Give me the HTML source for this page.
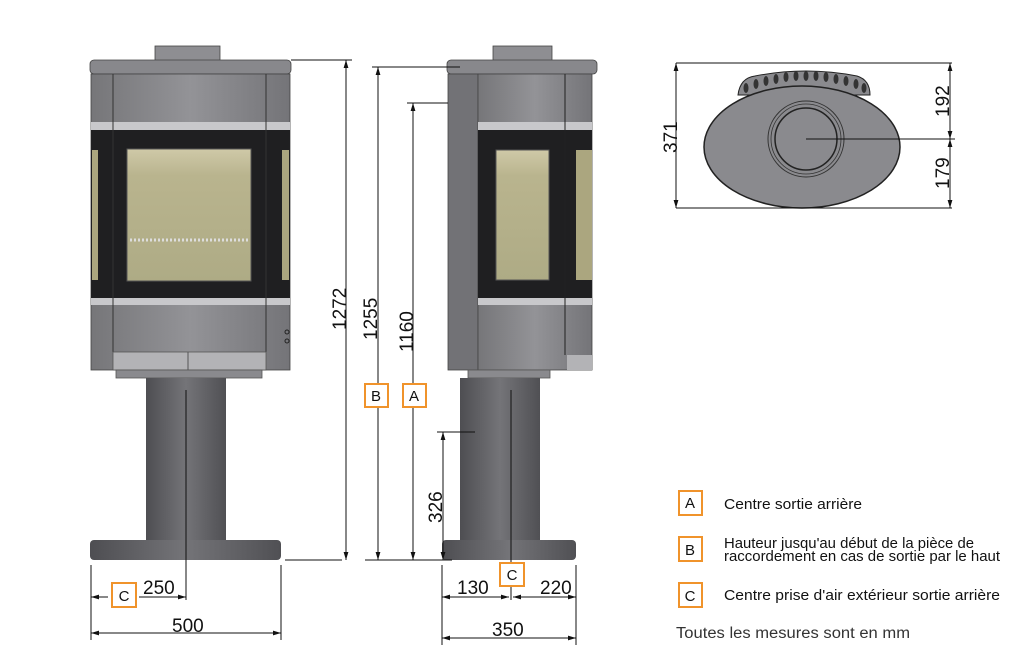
<!DOCTYPE html>
<html><head><meta charset="utf-8"><style>
html,body{margin:0;padding:0;background:#fff;width:1024px;height:672px;overflow:hidden}
svg{display:block}
text{font-family:"Liberation Sans",sans-serif;fill:#111}
</style></head><body>
<svg width="1024" height="672" viewBox="0 0 1024 672" xmlns="http://www.w3.org/2000/svg">
<defs>
<linearGradient id="g" x1="0" x2="1"><stop offset="0" stop-color="#767679"/><stop offset="0.5" stop-color="#939397"/><stop offset="1" stop-color="#747478"/></linearGradient>
<linearGradient id="gd" x1="0" x2="1"><stop offset="0" stop-color="#4e4e52"/><stop offset="0.5" stop-color="#747478"/><stop offset="1" stop-color="#505054"/></linearGradient>
<linearGradient id="gl" x1="0" x2="0" y1="0" y2="1"><stop offset="0" stop-color="#cfc9a8"/><stop offset="0.2" stop-color="#b9b48e"/><stop offset="1" stop-color="#aeab85"/></linearGradient>
<marker id="a" viewBox="0 0 10 10" refX="10" refY="5" markerWidth="8" markerHeight="8" orient="auto-start-reverse"><path d="M0,2L10,5L0,8z" fill="#111"/></marker>
</defs>

<!-- FRONT STOVE -->
<rect x="155" y="46" width="65" height="15" fill="#8e8e92" stroke="#444" stroke-width="0.8"/>
<rect x="90" y="60" width="201" height="14" rx="4" fill="#88888c" stroke="#444" stroke-width="0.8"/>
<rect x="91" y="74" width="199" height="296" fill="url(#g)" stroke="#444" stroke-width="0.8"/>
<rect x="91" y="122" width="199" height="8" fill="#c8c8cb"/>
<rect x="91" y="130" width="199" height="168" fill="#1f1f21"/>
<rect x="91" y="298" width="199" height="7" fill="#c8c8cb"/>
<line x1="113" y1="74" x2="113" y2="352" stroke="#333"/>
<line x1="266" y1="74" x2="266" y2="352" stroke="#333"/>
<rect x="127" y="149" width="124" height="132" fill="url(#gl)" stroke="#555"/>
<line x1="130" y1="240" x2="248" y2="240" stroke="#ddd" stroke-width="3" stroke-dasharray="2 2"/>
<rect x="92" y="150" width="6" height="130" fill="#aba67f"/>
<rect x="282" y="150" width="7" height="130" fill="#aba67f"/>
<rect x="113" y="352" width="153" height="18" fill="#b3b3b6" stroke="#555" stroke-width="0.8"/>
<line x1="188" y1="352" x2="188" y2="370" stroke="#555"/>
<circle cx="287" cy="332" r="2" fill="none" stroke="#222"/><circle cx="287" cy="341" r="2" fill="none" stroke="#222"/>
<rect x="116" y="370" width="146" height="8" fill="#8a8a8e" stroke="#555" stroke-width="0.8"/>
<rect x="146" y="378" width="80" height="162" fill="url(#gd)"/>
<rect x="90" y="540" width="191" height="20" rx="4" fill="url(#gd)"/>
<line x1="186" y1="390" x2="186" y2="600" stroke="#111"/>

<!-- SIDE STOVE -->
<rect x="493" y="46" width="59" height="15" fill="#8e8e92" stroke="#444" stroke-width="0.8"/>
<rect x="447" y="60" width="150" height="14" rx="4" fill="#88888c" stroke="#444" stroke-width="0.8"/>
<rect x="448" y="74" width="30" height="296" fill="#727276" stroke="#444" stroke-width="0.8"/>
<rect x="478" y="74" width="114" height="296" fill="url(#g)" stroke="#444" stroke-width="0.8"/>
<rect x="478" y="122" width="114" height="8" fill="#c8c8cb"/>
<rect x="478" y="130" width="114" height="168" fill="#1f1f21"/>
<rect x="478" y="298" width="114" height="7" fill="#c8c8cb"/>
<line x1="565" y1="74" x2="565" y2="355" stroke="#222"/>
<rect x="496" y="150" width="53" height="130" fill="url(#gl)" stroke="#555"/>
<rect x="576" y="150" width="16" height="130" fill="#aba67f"/>
<rect x="567" y="355" width="25" height="15" fill="#b3b3b6"/>
<rect x="468" y="370" width="82" height="8" fill="#8a8a8e" stroke="#555" stroke-width="0.8"/>
<rect x="460" y="378" width="80" height="162" fill="url(#gd)"/>
<rect x="442" y="540" width="134" height="20" rx="4" fill="url(#gd)"/>
<line x1="511" y1="390" x2="511" y2="600" stroke="#111"/>

<!-- vertical dims -->
<g stroke="#111" stroke-width="1" fill="none">
<line x1="291" y1="60" x2="352" y2="60"/>
<line x1="346" y1="60" x2="346" y2="560" marker-start="url(#a)" marker-end="url(#a)"/>
<line x1="372" y1="67" x2="460" y2="67"/>
<line x1="378" y1="67" x2="378" y2="560" marker-start="url(#a)" marker-end="url(#a)"/>
<line x1="407" y1="103" x2="448" y2="103"/>
<line x1="413" y1="103" x2="413" y2="560" marker-start="url(#a)" marker-end="url(#a)"/>
<line x1="437" y1="432" x2="475" y2="432"/>
<line x1="443" y1="432" x2="443" y2="560" marker-start="url(#a)" marker-end="url(#a)"/>
<line x1="285" y1="560" x2="342" y2="560"/>
<line x1="365" y1="560" x2="452" y2="560"/>
<!-- bottom dims -->
<line x1="91" y1="565" x2="91" y2="640"/><line x1="281" y1="565" x2="281" y2="640"/>
<line x1="91" y1="597" x2="108" y2="597" marker-start="url(#a)"/>
<line x1="139" y1="597" x2="186" y2="597" marker-end="url(#a)"/>
<line x1="91" y1="633" x2="281" y2="633" marker-start="url(#a)" marker-end="url(#a)"/>
<line x1="442" y1="565" x2="442" y2="645"/><line x1="576" y1="565" x2="576" y2="645"/>
<line x1="442" y1="597" x2="509" y2="597" marker-start="url(#a)" marker-end="url(#a)"/>
<line x1="513" y1="597" x2="576" y2="597" marker-start="url(#a)" marker-end="url(#a)"/>
<line x1="442" y1="638" x2="576" y2="638" marker-start="url(#a)" marker-end="url(#a)"/>
</g>
<g font-size="19">
<text transform="translate(346,330) rotate(-90)">1272</text>
<text transform="translate(377,340) rotate(-90)">1255</text>
<text transform="translate(413,352) rotate(-90)">1160</text>
<text transform="translate(442,523) rotate(-90)">326</text>
<text x="143" y="594">250</text>
<text x="172" y="632">500</text>
<text x="457" y="594">130</text>
<text x="540" y="594">220</text>
<text x="492" y="636">350</text>
</g>
<g fill="#fff" stroke="#f0932b" stroke-width="2">
<rect x="365" y="384" width="23" height="23"/><rect x="403" y="384" width="23" height="23"/>
<rect x="112" y="583" width="24" height="24"/><rect x="500" y="563" width="24" height="23"/>
<rect x="679" y="491" width="23" height="24"/><rect x="679" y="537" width="23" height="24"/><rect x="679" y="583" width="23" height="24"/>
</g>
<g font-size="15" text-anchor="middle">
<text x="376" y="401">B</text><text x="414" y="401">A</text>
<text x="124" y="601">C</text><text x="512" y="580">C</text>
<text x="690" y="508">A</text><text x="690" y="555">B</text><text x="690" y="601">C</text>
</g>

<!-- TOP VIEW -->
<path d="M738,95 Q740,78 755,76 Q806,66 857,76 Q870,80 870,95 Z" fill="#8a8a8e" stroke="#222"/>
<ellipse cx="802" cy="147" rx="98" ry="61" fill="#8a8a8e" stroke="#222" stroke-width="1.5"/>
<g fill="#333">
<ellipse cx="746" cy="88" rx="2.5" ry="5"/><ellipse cx="756" cy="84" rx="2.5" ry="5"/><ellipse cx="766" cy="81" rx="2.5" ry="5"/><ellipse cx="776" cy="79" rx="2.5" ry="5"/><ellipse cx="786" cy="77" rx="2.5" ry="5"/><ellipse cx="796" cy="76" rx="2.5" ry="5"/><ellipse cx="806" cy="76" rx="2.5" ry="5"/><ellipse cx="816" cy="76" rx="2.5" ry="5"/><ellipse cx="826" cy="77" rx="2.5" ry="5"/><ellipse cx="836" cy="79" rx="2.5" ry="5"/><ellipse cx="846" cy="81" rx="2.5" ry="5"/><ellipse cx="856" cy="84" rx="2.5" ry="5"/><ellipse cx="864" cy="88" rx="2.5" ry="5"/>
</g>
<circle cx="806" cy="139" r="38" fill="none" stroke="#333"/>
<circle cx="806" cy="139" r="35" fill="none" stroke="#333" stroke-width="0.8"/>
<circle cx="806" cy="139" r="31" fill="#8a8a8e" stroke="#222" stroke-width="1.5"/>
<g stroke="#111" fill="none">
<line x1="676" y1="63" x2="952" y2="63"/><line x1="676" y1="208" x2="952" y2="208"/>
<line x1="806" y1="139" x2="955" y2="139"/>
<line x1="676" y1="63" x2="676" y2="208" marker-start="url(#a)" marker-end="url(#a)"/>
<line x1="950" y1="63" x2="950" y2="139" marker-start="url(#a)" marker-end="url(#a)"/>
<line x1="950" y1="139" x2="950" y2="208" marker-start="url(#a)" marker-end="url(#a)"/>
</g>
<g font-size="19">
<text transform="translate(677,153) rotate(-90)">371</text>
<text transform="translate(949,117) rotate(-90)">192</text>
<text transform="translate(949,189) rotate(-90)">179</text>
</g>

<!-- LEGEND -->
<g font-size="14.5">
<text x="724" y="509" textLength="138" lengthAdjust="spacingAndGlyphs">Centre sortie arrière</text>
<text x="724" y="548" textLength="250" lengthAdjust="spacingAndGlyphs">Hauteur jusqu'au début de la pièce de</text>
<text x="724" y="561" textLength="276" lengthAdjust="spacingAndGlyphs">raccordement en cas de sortie par le haut</text>
<text x="724" y="600" textLength="276" lengthAdjust="spacingAndGlyphs">Centre prise d'air extérieur sortie arrière</text>
</g>
<text x="676" y="638" font-size="15.5" textLength="234" lengthAdjust="spacingAndGlyphs" style="fill:#333">Toutes les mesures sont en mm</text>
</svg>
</body></html>
